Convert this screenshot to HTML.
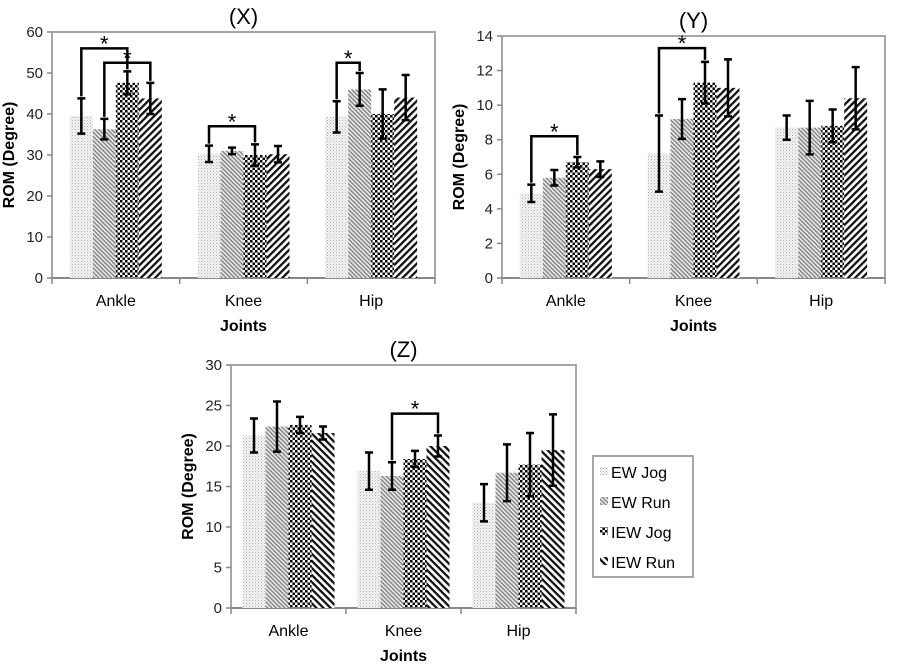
<!DOCTYPE html>
<html><head><meta charset="utf-8"><style>
body{margin:0;background:#fff;}
svg{display:block;font-family:"Liberation Sans",Arial,sans-serif;}
</style></head><body>
<svg id="fig" width="900" height="665" viewBox="0 0 900 665">
<defs>
<pattern id="p0" width="3" height="3" patternUnits="userSpaceOnUse"><rect width="3" height="3" fill="#f4f4f4"/><rect width="1" height="1" fill="#b0b0b0"/><rect x="1.5" y="1.5" width="1" height="1" fill="#c8c8c8"/></pattern>
<pattern id="p1" width="3" height="3" patternUnits="userSpaceOnUse" patternTransform="rotate(45)"><rect width="3" height="3" fill="#e6e6e6"/><rect width="3" height="1.2" fill="#777"/></pattern>
<pattern id="p2" width="5" height="5" patternUnits="userSpaceOnUse"><rect width="5" height="5" fill="#fff"/><rect width="2.5" height="2.5" fill="#000"/><rect x="2.5" y="2.5" width="2.5" height="2.5" fill="#000"/></pattern>
<pattern id="p3" width="5" height="5" patternUnits="userSpaceOnUse" patternTransform="rotate(45)"><rect width="5" height="5" fill="#fff"/><rect width="5" height="2.3" fill="#111"/></pattern>
<pattern id="p3b" width="5" height="5" patternUnits="userSpaceOnUse" patternTransform="rotate(-45)"><rect width="5" height="5" fill="#fff"/><rect width="5" height="2.3" fill="#111"/></pattern>
</defs>
</svg>
<script>
const categories = ["Ankle","Knee","Hip"];
const seriesNames = ["EW Jog","EW Run","IEW Jog","IEW Run"];
const xVals = [[39.5,36.3,47.6,43.8],[30.3,31.0,30.0,30.2],[39.3,46.0,40.0,44.0]];
const xErr  = [[4.3,2.5,2.8,3.8],[2.0,0.8,2.6,2.0],[3.8,4.0,6.0,5.5]];
const xTicks = [0,10,20,30,40,50,60];
const xSig = [[0,0,2,56],[0,1,3,52.5],[1,0,2,37],[2,0,1,52.5]];
const yVals = [[4.9,5.8,6.7,6.3],[7.2,9.2,11.3,11.0],[8.7,8.7,8.8,10.4]];
const yErr  = [[0.5,0.45,0.3,0.45],[2.2,1.15,1.2,1.65],[0.7,1.55,0.95,1.8]];
const yTicks = [0,2,4,6,8,10,12,14];
const ySig = [[0,0,2,8.2],[1,0,2,13.3]];
const zVals = [[21.3,22.4,22.6,21.6],[16.9,16.3,18.4,20.0],[13.0,16.7,17.7,19.5]];
const zErr  = [[2.1,3.1,1.0,0.8],[2.3,1.7,1.0,1.3],[2.3,3.5,3.9,4.4]];
const zTicks = [0,5,10,15,20,25,30];
const zSig = [[1,1,3,24]];

const NS="http://www.w3.org/2000/svg";
const svg=document.getElementById('fig');
function mk(tag,attrs,parent){const e=document.createElementNS(NS,tag);for(const k in attrs)e.setAttribute(k,attrs[k]);(parent||svg).appendChild(e);return e;}

function drawChart(name,L,R,T,B,vals,errs,ticks,sig,title,stripe){
  const g=mk('g',{});
  
  
  const max=ticks[ticks.length-1];
  const y=v=>B-(v/max)*(B-T);
  const cw=(R-L)/categories.length, bw=23;
  const x=(c,s)=>L+c*cw+(cw-4*bw)/2+s*bw;
  const frame=mk('rect',{x:L,y:T,width:R-L,height:B-T,fill:'none',stroke:'#a6a6a6','stroke-width':2},g);
  
  
  ticks.forEach(t=>{
    mk('line',{x1:L-5,x2:L,y1:y(t),y2:y(t),stroke:'#888','stroke-width':1.5},g);
    const tl=mk('text',{x:L-9,y:y(t)+5,'text-anchor':'end','font-size':15,fill:'#222'},g);
    tl.textContent=t;
    
    
  });
  mk('line',{x1:L,x2:R,y1:B,y2:B,stroke:'#888','stroke-width':2},g);
  for(let c=0;c<=categories.length;c++) mk('line',{x1:L+c*cw,x2:L+c*cw,y1:B,y2:B+6,stroke:'#888','stroke-width':1.5},g);
  categories.forEach((cat,c)=>{
    const tl=mk('text',{x:L+c*cw+cw/2,y:B+28,'text-anchor':'middle','font-size':16,fill:'#000'},g);
    tl.textContent=cat;
    
    
    vals[c].forEach((v,s)=>{
      const fill=s===3?('url(#'+stripe+')'):('url(#p'+s+')');
      const b=mk('rect',{x:x(c,s),y:y(v),width:bw,height:B-y(v),fill:fill},g);
      
      
      const cx=x(c,s)+bw/2,e=errs[c][s];
      const eb=mk('path',{d:`M${cx} ${y(v+e)}V${y(v-e)}M${cx-4} ${y(v+e)}H${cx+4}M${cx-4} ${y(v-e)}H${cx+4}`,stroke:'#000','stroke-width':2.5,fill:'none'},g);
      
      
    });
  });
  sig.forEach(([c,a,b2,lvl])=>{
    const xa=x(c,a)+bw/2,xb=x(c,b2)+bw/2;
    const ya=y(vals[c][a]+errs[c][a])-2,yb=y(vals[c][b2]+errs[c][b2])-2;
    const br=mk('path',{d:`M${xa} ${ya}V${y(lvl)}H${xb}V${yb}`,stroke:'#000','stroke-width':2.5,fill:'none'},g);
    
    
    const st=mk('text',{x:(xa+xb)/2,y:y(lvl)+3,'text-anchor':'middle','font-size':22,fill:'#000'},g);
    st.textContent='*';
    
    
  });
  const tt=mk('text',{x:(L+R)/2,y:T-8,'text-anchor':'middle','font-size':22,fill:'#000'},g);
  tt.textContent=title;
  
  
  const xt=mk('text',{x:(L+R)/2,y:B+53,'text-anchor':'middle','font-size':16,'font-weight':'bold',fill:'#000'},g);
  xt.textContent='Joints';
  
  
  const cyv=(T+B)/2, cxv=L-38;
  const yt=mk('text',{x:cxv,y:cyv,'text-anchor':'middle','font-size':16,'font-weight':'bold',fill:'#000',transform:`rotate(-90 ${cxv} ${cyv})`},g);
  yt.textContent='ROM (Degree)';
  
  
}
drawChart('chart-x',52,435,32,278,xVals,xErr,xTicks,xSig,'(X)','p3b');
drawChart('chart-y',502,885,36,278,yVals,yErr,yTicks,ySig,'(Y)','p3b');
drawChart('chart-z',231,576,365,608,zVals,zErr,zTicks,zSig,'(Z)','p3');

const lg=mk('g',{});


mk('rect',{x:593,y:456,width:100,height:121,fill:'#fff',stroke:'#a6a6a6','stroke-width':2},lg);
const lfills=['url(#p0)','url(#p1)','url(#p2)','url(#p3)'];
seriesNames.forEach((n,i)=>{
  const yy=473+i*30;
  const sw=mk('rect',{x:600,y:yy-6,width:8,height:8,fill:lfills[i]},lg);
  
  
  const t=mk('text',{x:611,y:yy+5,'font-size':16,fill:'#000'},lg);
  t.textContent=n;
  
  
});
</script>
</body></html>
